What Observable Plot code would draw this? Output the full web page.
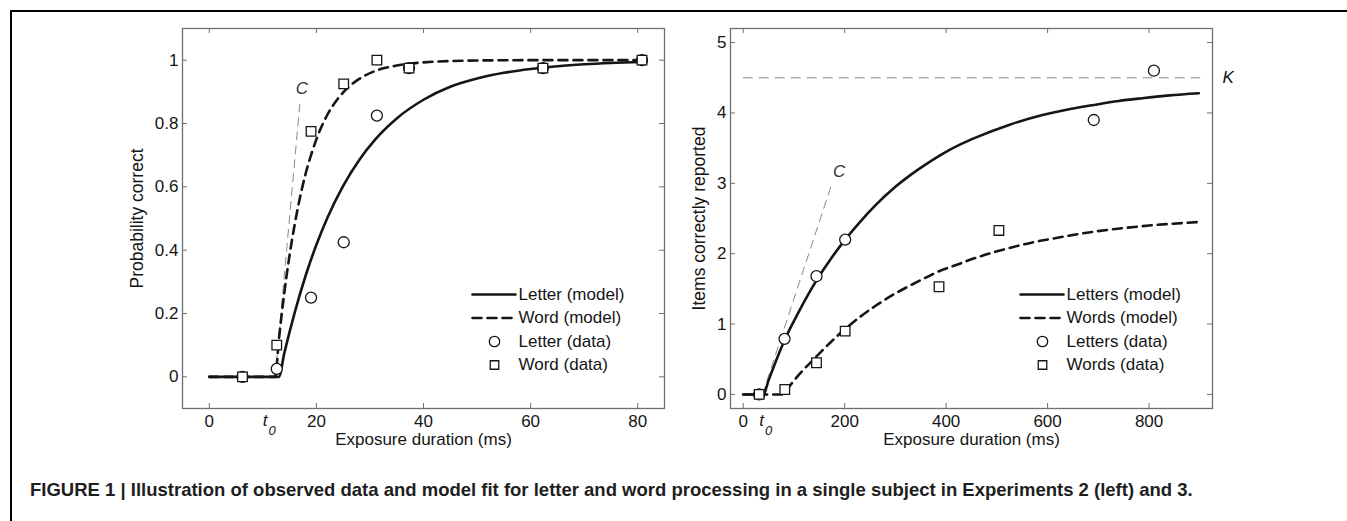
<!DOCTYPE html>
<html>
<head>
<meta charset="utf-8">
<script src="https://cdn.jsdelivr.net/npm/d3@7"></script>
<script src="https://cdn.jsdelivr.net/npm/@observablehq/plot@0.6"></script>
<style>
  html, body { margin: 0; padding: 0; background: #fff; }
  body { width: 1347px; height: 521px; overflow: hidden; position: relative; font-family: "Liberation Sans", Arial, sans-serif; }
  #frame { position: absolute; left: 10px; top: 10px; right: 0; bottom: 0; border-left: 2px solid #000; border-top: 2px solid #000; }
  #left { position: absolute; left: 0; top: 0; }
  #right { position: absolute; left: 680px; top: 0; }
  #caption { position: absolute; left: 30px; top: 479px; font-weight: bold; font-size: 18.5px; line-height: 22px; color: #1e1e1e; white-space: nowrap; }
</style>
</head>
<body>
<div id="frame"></div>
<div id="left"></div>
<div id="right"></div>
<div id="caption">FIGURE 1 | Illustration of observed data and model fit for letter and word processing in a single subject in Experiments 2 (left) and 3.</div>
<script>
// ---------- tick values ----------
const leftXTicks = [0, 20, 40, 60, 80];
const leftYTicks = [0, 0.2, 0.4, 0.6, 0.8, 1];
const rightXTicks = [0, 200, 400, 600, 800];
const rightYTicks = [0, 1, 2, 3, 4, 5];

// ---------- left panel (Experiment 2) ----------
const leftExposure = [6.2, 12.6, 19, 25.1, 31.3, 37.3, 62.3, 80.8];
const leftLetterData = [0, 0.025, 0.25, 0.425, 0.825, 0.975, 0.975, 1.0];
const leftWordData = [0, 0.1, 0.775, 0.925, 1.0, 0.975, 0.975, 1.0];

const leftLetterModelX = [0, 13, 14, 16, 18, 20, 22, 25, 28, 31, 35, 40, 45, 50, 55, 60, 65, 70, 75, 81];
const leftLetterModelY = [0, 0, 0.074, 0.206, 0.32, 0.417, 0.5, 0.603, 0.685, 0.75, 0.816, 0.875, 0.916, 0.942, 0.96, 0.972, 0.981, 0.987, 0.991, 0.994];
const leftWordModelX = [0, 12.3, 13, 14, 15, 16, 17, 18, 19, 20, 22, 24, 26, 28, 31, 35, 40, 50, 60, 81];
const leftWordModelY = [0, 0, 0.118, 0.264, 0.385, 0.486, 0.571, 0.642, 0.7, 0.75, 0.826, 0.878, 0.915, 0.941, 0.966, 0.983, 0.993, 0.999, 1.0, 1.0];

const leftCLineX = [12.3, 16.9];
const leftCLineY = [0, 0.86];
const leftCLabel = {x: 17.3, y: 0.91, text: "C"};
const leftT0LabelX = 11;

const leftLegend = ["Letter (model)", "Word (model)", "Letter (data)", "Word (data)"];

// ---------- right panel (Experiment 3) ----------
const rightLetterExposure = [31.5, 81.5, 144.5, 201, 691, 809.5];
const rightLetterData = [0, 0.79, 1.68, 2.2, 3.9, 4.6];
const rightWordExposure = [31.5, 82, 144.5, 201, 386, 504];
const rightWordData = [0, 0.07, 0.45, 0.9, 1.53, 2.33];

const rightLetterModelX = [0, 40, 50, 60, 81.5, 110, 144.5, 175, 201, 230, 261, 300, 330, 360, 393, 430, 458, 524, 590, 640, 688, 740, 787, 840, 898];
const rightLetterModelY = [0, 0, 0.2, 0.39, 0.77, 1.18, 1.62, 1.95, 2.2, 2.45, 2.69, 2.95, 3.12, 3.27, 3.42, 3.56, 3.65, 3.83, 3.97, 4.05, 4.11, 4.17, 4.21, 4.25, 4.28];
const rightWordModelX = [0, 77, 82, 110, 144.5, 175, 201, 230, 261, 294, 327, 360, 386, 420, 458, 524, 570, 622, 670, 721, 800, 898];
const rightWordModelY = [0, 0, 0.04, 0.28, 0.54, 0.76, 0.93, 1.1, 1.26, 1.41, 1.54, 1.66, 1.75, 1.84, 1.94, 2.08, 2.16, 2.23, 2.29, 2.34, 2.4, 2.45];

const rightCLineX = [38, 175];
const rightCLineY = [0, 3.0];
const rightCLabel = {x: 189, y: 3.17, text: "C"};
const rightKLineX = [0, 900];
const rightKValue = 4.5;
const rightT0LabelX = 42;

const rightLegend = ["Letters (model)", "Words (model)", "Letters (data)", "Words (data)"];

// ---------- helpers ----------
const zip = (xs, ys) => xs.map((x, i) => ({x, y: ys[i]}));
const fmt = d => String(d);
const lineShape = {draw(context, l) { context.moveTo(0, 0); context.lineTo(0, -l); }};
const FONT = "'Liberation Sans', Arial, sans-serif";

function panel(cfg) {
  const fw = cfg.width - cfg.ml - cfg.mr;
  const fh = cfg.height - cfg.mt - cfg.mb;
  const tickLen = 5;
  const frameColor = "#6f6f6f";
  const ink = "#151515";
  const fs = 17;

  const legendMarks = [];
  cfg.legend.forEach((label, i) => {
    const dy = -114 + i * 23.5;
    if (i < 2) {
      legendMarks.push(Plot.vector([0], {
        frameAnchor: "bottom-right", dx: -192, dy, rotate: 90, length: 43, anchor: "start",
        shape: lineShape, stroke: ink, strokeWidth: 2.6,
        strokeDasharray: i === 1 ? "9,6" : null
      }));
    } else {
      legendMarks.push(Plot.dot([0], {
        frameAnchor: "bottom-right", dx: -170, dy, symbol: i === 2 ? "circle" : "square",
        r: i === 2 ? 5.2 : 4.8, fill: "white", stroke: ink, strokeWidth: 1.3
      }));
    }
    legendMarks.push(Plot.text([label], {
      frameAnchor: "bottom-right", dx: -146, dy, text: d => d, textAnchor: "start",
      lineAnchor: "middle", fontSize: fs, fill: ink
    }));
  });

  const marks = [
    Plot.ruleX(cfg.xTicks, {x: d => d, insetTop: fh - tickLen, stroke: frameColor}),
    Plot.ruleX(cfg.xTicks, {x: d => d, insetBottom: fh - tickLen, stroke: frameColor}),
    Plot.ruleY(cfg.yTicks, {y: d => d, insetRight: fw - tickLen, stroke: frameColor}),
    Plot.ruleY(cfg.yTicks, {y: d => d, insetLeft: fw - tickLen, stroke: frameColor}),
    Plot.frame({stroke: frameColor, strokeWidth: 1.3}),
    Plot.axisX(cfg.xTicks, {tickSize: 0, tickPadding: 6, tickFormat: fmt, fontSize: fs, label: null}),
    Plot.axisY(cfg.yTicks, {tickSize: 0, tickPadding: 4, tickFormat: fmt, fontSize: fs, label: null}),
    Plot.text([cfg.xLabel], {frameAnchor: "bottom", dy: 36, text: d => d, textAnchor: "middle", fontSize: fs, fill: ink}),
    Plot.text([cfg.yLabel], {frameAnchor: "left", dx: -cfg.yLabelOffset, rotate: -90, text: d => d, textAnchor: "middle", fontSize: 17.5, fill: ink}),
    Plot.text([cfg.t0], {x: d => d, frameAnchor: "bottom", dy: 17, dx: -3, text: () => "t", textAnchor: "middle", fontStyle: "italic", fontSize: fs, fill: ink}),
    Plot.text([cfg.t0], {x: d => d, frameAnchor: "bottom", dy: 26, dx: 4, text: () => "0", textAnchor: "middle", fontStyle: "italic", fontSize: 13, fill: ink}),
    ...cfg.extra,
    Plot.line(cfg.cLine, {x: "x", y: "y", stroke: "#8a8a8a", strokeWidth: 1, strokeDasharray: "8,6"}),
    Plot.text([cfg.cLabel], {x: "x", y: "y", text: "text", fontStyle: "italic", fontSize: fs, fill: "#333"}),
    Plot.line(cfg.wordModel, {x: "x", y: "y", curve: "monotone-x", stroke: ink, strokeWidth: 2.6, strokeDasharray: "9,6"}),
    Plot.line(cfg.letterModel, {x: "x", y: "y", curve: "monotone-x", stroke: ink, strokeWidth: 2.6}),
    Plot.dot(cfg.letterData, {x: "x", y: "y", symbol: "circle", r: 5.5, fill: "white", stroke: ink, strokeWidth: 1.3}),
    Plot.dot(cfg.wordData, {x: "x", y: "y", symbol: "square", r: 5.4, fill: "white", stroke: ink, strokeWidth: 1.3}),
    ...legendMarks
  ];

  return Plot.plot({
    width: cfg.width,
    height: cfg.height,
    marginLeft: cfg.ml,
    marginRight: cfg.mr,
    marginTop: cfg.mt,
    marginBottom: cfg.mb,
    x: {domain: cfg.xDomain},
    y: {domain: cfg.yDomain},
    style: {background: "transparent", color: ink, fontFamily: FONT, fontSize: fs + "px", overflow: "visible"},
    marks
  });
}

const leftChart = panel({
  width: 680, height: 460, ml: 182, mr: 16, mt: 28, mb: 52,
  xDomain: [-5, 85], yDomain: [-0.1, 1.1],
  xTicks: leftXTicks, yTicks: leftYTicks,
  xLabel: "Exposure duration (ms)", yLabel: "Probability correct", yLabelOffset: 45,
  t0: leftT0LabelX,
  letterData: zip(leftExposure, leftLetterData),
  wordData: zip(leftExposure, leftWordData),
  letterModel: zip(leftLetterModelX, leftLetterModelY),
  wordModel: zip(leftWordModelX, leftWordModelY),
  cLine: zip(leftCLineX, leftCLineY),
  cLabel: leftCLabel,
  legend: leftLegend,
  extra: []
});

const rightChart = panel({
  width: 667, height: 460, ml: 50, mr: 135, mt: 28, mb: 52,
  xDomain: [-25, 925], yDomain: [-0.2, 5.2],
  xTicks: rightXTicks, yTicks: rightYTicks,
  xLabel: "Exposure duration (ms)", yLabel: "Items correctly reported", yLabelOffset: 31,
  t0: rightT0LabelX,
  letterData: zip(rightLetterExposure, rightLetterData),
  wordData: zip(rightWordExposure, rightWordData),
  letterModel: zip(rightLetterModelX, rightLetterModelY),
  wordModel: zip(rightWordModelX, rightWordModelY),
  cLine: zip(rightCLineX, rightCLineY),
  cLabel: rightCLabel,
  legend: rightLegend,
  extra: [
    Plot.line(rightKLineX.map(x => ({x, y: rightKValue})), {x: "x", y: "y", stroke: "#8a8a8a", strokeWidth: 1, strokeDasharray: "9,7"}),
    Plot.text([{y: rightKValue, text: "K"}], {y: "y", text: "text", frameAnchor: "right", dx: 10, textAnchor: "start", fontStyle: "italic", fontSize: 17, fill: "#151515"})
  ]
});

document.getElementById("left").appendChild(leftChart);
document.getElementById("right").appendChild(rightChart);
</script>
</body>
</html>
